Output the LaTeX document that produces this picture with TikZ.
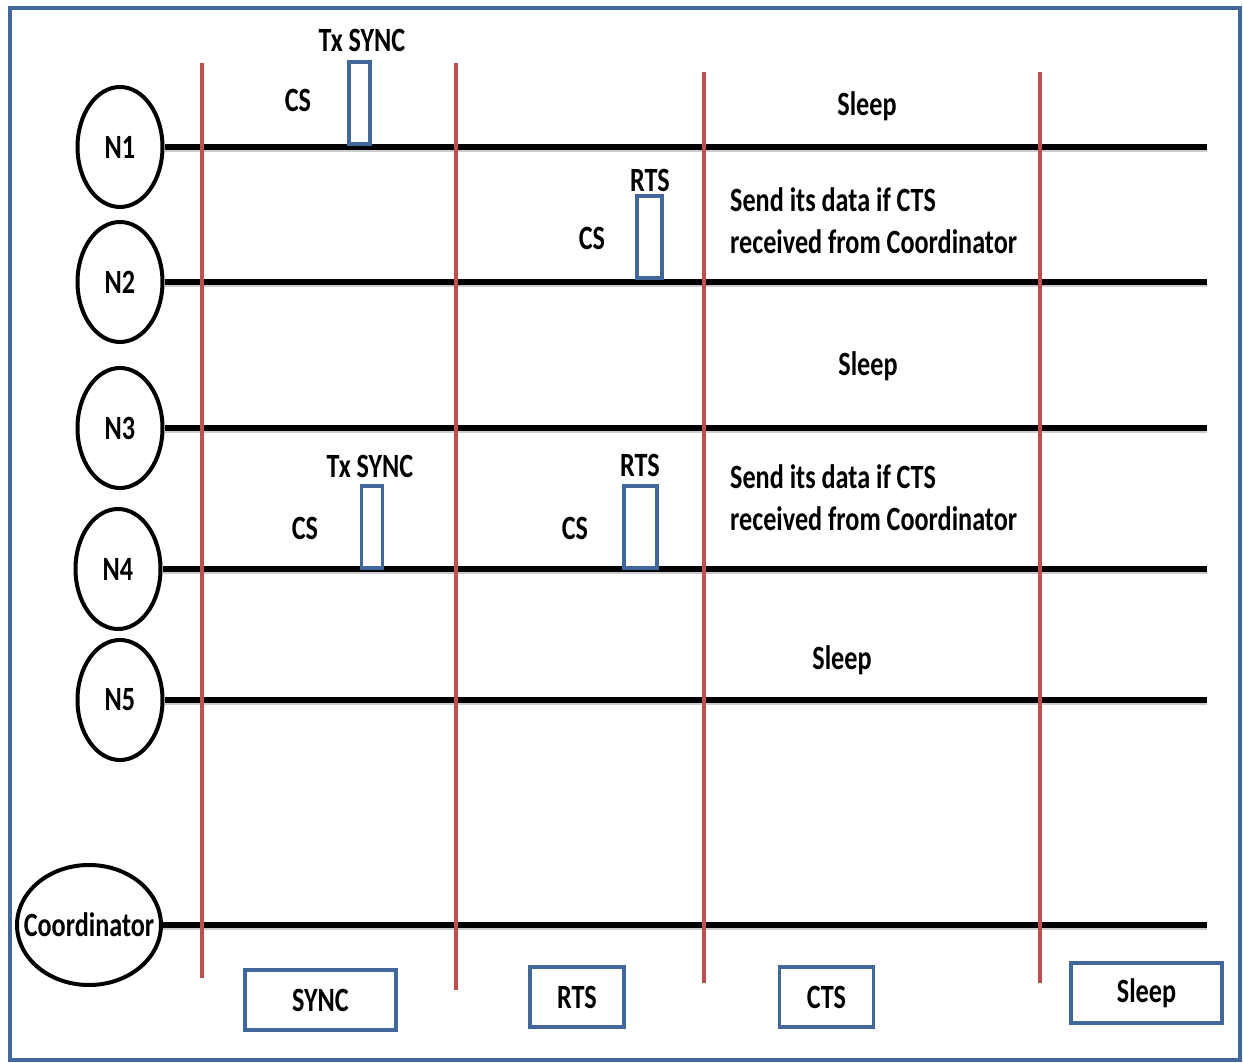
\documentclass[tikz,border=0pt]{standalone}
\usepackage{fontspec}
\setmainfont{Carlito}[FakeStretch=0.77]
\usepackage{tikz}
\usetikzlibrary{shapes.geometric}
\definecolor{frameblue}{HTML}{41679B}
\definecolor{slotred}{HTML}{C0504D}

\begin{document}
\begin{tikzpicture}[x=0.5pt, y=-0.5pt, line width=1.5pt,
    every node/.style={font=\fontsize{17}{21}\selectfont\bfseries},
    station/.style={ellipse, draw, line width=2pt, inner sep=0pt,
      minimum width=42.5pt, minimum height=60pt},
    timeline/.style={line width=3pt, preaction={draw=black!20, line width=3pt,
      transform canvas={yshift=-1.2pt}}},
    slotline/.style={draw=slotred, line width=1.7pt},
    pulse/.style={draw=frameblue, line width=1.8pt, inner sep=0pt, anchor=south,
      minimum width=10.5pt, minimum height=41pt},
    phasebox/.style={draw=frameblue, line width=1.9pt, inner sep=0pt,
      minimum width=47pt, minimum height=30pt}]
  \useasboundingbox (0,0) rectangle (1243,1063);
  % outer frame
  \draw[frameblue, line width=1.8pt] (10,8) rectangle (1240,1060);
  % stations
  \node[station] (n1) at (120,147) {N1};
  \node[station] (n2) at (120,282) {N2};
  \node[station] (n3) at (120,428) {N3};
  \node[station] (n4) at (118,569) {N4};
  \node[station] (n5) at (120,700) {N5};
  \node[station, inner xsep=-7.5pt, minimum width=72pt] (co) at (89,925) {Coordinator};
  % time lines, ending on the right
  \coordinate (e1) at (1207,147);
  \coordinate (e2) at (1207,282);
  \coordinate (e3) at (1207,428);
  \coordinate (e4) at (1207,569);
  \coordinate (e5) at (1207,700);
  \coordinate (ec) at (1207,925);
  \draw[timeline] (n1) -- (e1);
  \draw[timeline] (n2) -- (e2);
  \draw[timeline] (n3) -- (e3);
  \draw[timeline] (n4) -- (e4);
  \draw[timeline] (n5) -- (e5);
  \draw[timeline] (co) -- (ec);
  % slot borders
  \coordinate (s1t) at (202,63);  \coordinate (s1b) at (202,978);
  \coordinate (s2t) at (456,63);  \coordinate (s2b) at (456,990);
  \coordinate (s3t) at (704,72);  \coordinate (s3b) at (704,983);
  \coordinate (s4t) at (1040,72); \coordinate (s4b) at (1040,983);
  \draw[slotline] (s1t) -- (s1b);
  \draw[slotline] (s2t) -- (s2b);
  \draw[slotline] (s3t) -- (s3b);
  \draw[slotline] (s4t) -- (s4b);
  % N1
  \node[pulse] (p1) at (359.5,146) {};
  \node (tx1) at (362,40) {Tx SYNC};
  \node (cs1) at (298,100) {CS};
  \node (sl1) at (867,106) {Sleep};
  % N2
  \node[pulse, minimum width=12.5pt] (p2) at (649.5,280) {};
  \node (rts2) at (650,180) {RTS};
  \node (cs2) at (592,238) {CS};
  \node[anchor=west, align=left] (snd2) at (722,221) {Send its data if CTS\\received from Coordinator};
  % N3
  \node (sl3) at (868,366) {Sleep};
  % N4
  \node[pulse] (p4a) at (372,570) {};
  \node[pulse, minimum width=16.5pt] (p4b) at (640.5,570) {};
  \node (tx4) at (370,466) {Tx SYNC};
  \node (cs4a) at (305,528) {CS};
  \node (rts4) at (640,465) {RTS};
  \node (cs4b) at (575,528) {CS};
  \node[anchor=west, align=left] (snd4) at (722,498) {Send its data if CTS\\received from Coordinator};
  % N5
  \node (sl5) at (842,660) {Sleep};
  % phases
  \node[phasebox, minimum width=75.5pt] (bsync) at (320.5,1000) {SYNC};
  \node[phasebox] (brts) at (577,997) {RTS};
  \node[phasebox] (bcts) at (826.5,997) {CTS};
  \node[phasebox, minimum width=75.5pt] (bsleep) at (1146.5,993) {Sleep};
\end{tikzpicture}
\end{document}
